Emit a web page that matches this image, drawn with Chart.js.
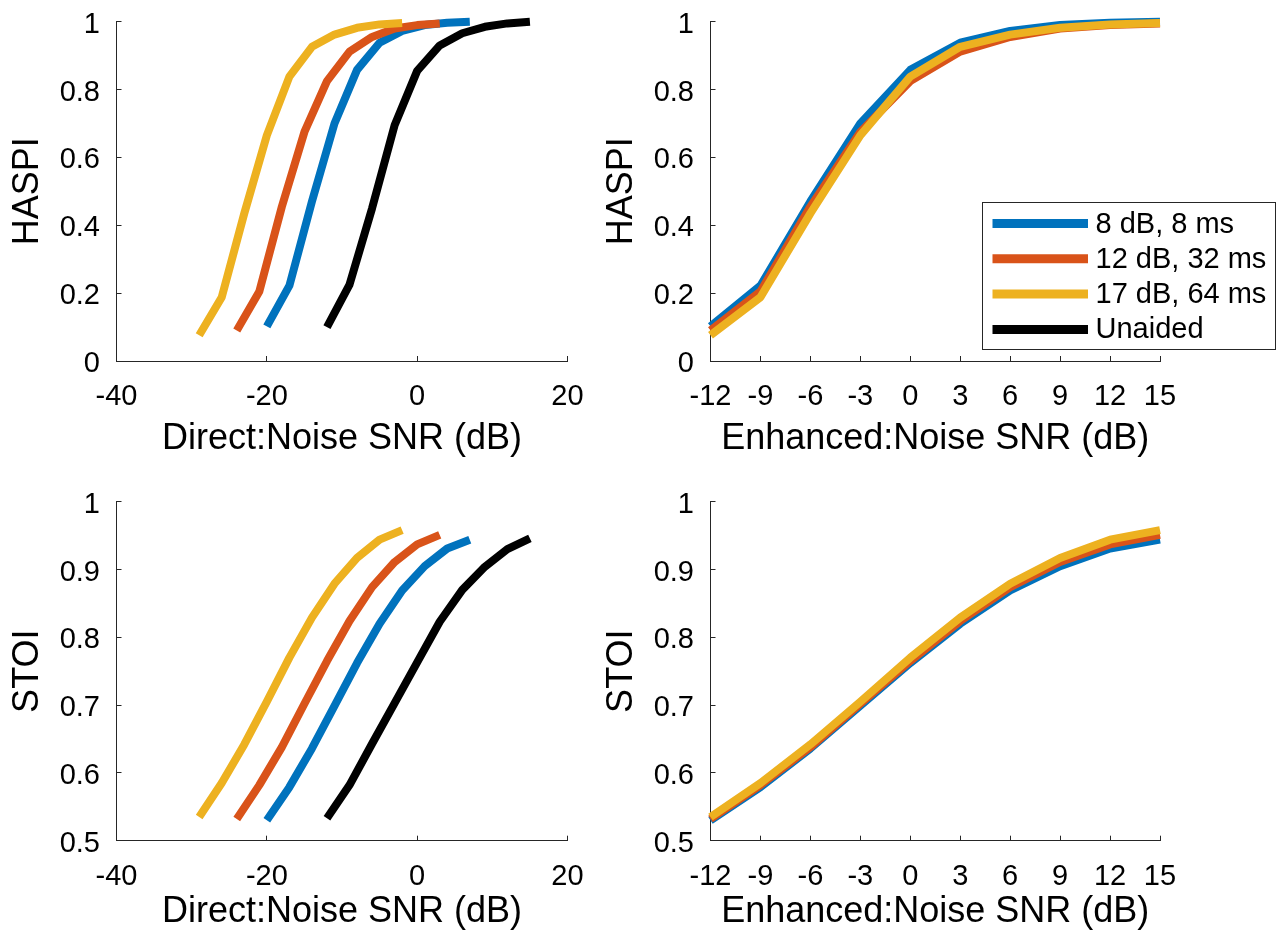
<!DOCTYPE html>
<html>
<head>
<meta charset="utf-8">
<title>HASPI / STOI vs SNR</title>
<script src="https://cdn.jsdelivr.net/npm/chart.js@4.4.1/dist/chart.umd.min.js"></script>
<style>
  body { margin: 0; background: #fff; }
  #wrap { position: relative; width: 1281px; height: 939px; }
  canvas { position: absolute; }
</style>
</head>
<body>
<div id="wrap">
  <canvas id="haspiDirect"   width="590" height="470" style="left:0;top:0"></canvas>
  <canvas id="haspiEnhanced" width="691" height="470" style="left:590px;top:0"></canvas>
  <canvas id="stoiDirect"    width="590" height="469" style="left:0;top:470px"></canvas>
  <canvas id="stoiEnhanced"  width="691" height="469" style="left:590px;top:470px"></canvas>
</div>
<script>
// ── Data ─────────────────────────────────────
const enhancedSnr      = [-12, -9, -6, -3, 0, 3, 6, 9, 12, 15];
const directSnr8       = [-20, -17, -14, -11, -8, -5, -2, 1, 4, 7];
const directSnr12      = [-24, -21, -18, -15, -12, -9, -6, -3, 0, 3];
const directSnr17      = [-29, -26, -23, -20, -17, -14, -11, -8, -5, -2];
const directSnrUnaided = [-12, -9, -6, -3, 0, 3, 6, 9, 12, 15];

const haspi8       = [0.102, 0.222, 0.47, 0.70, 0.858, 0.938, 0.973, 0.99, 0.997, 1.0];
const haspi12      = [0.09, 0.205, 0.455, 0.675, 0.825, 0.912, 0.955, 0.98, 0.99, 0.995];
const haspi17      = [0.076, 0.188, 0.435, 0.665, 0.838, 0.926, 0.962, 0.982, 0.992, 0.996];
const haspiUnaided = [0.10, 0.225, 0.45, 0.695, 0.855, 0.93, 0.966, 0.985, 0.995, 1.0];

const stoi8       = [0.530, 0.579, 0.636, 0.699, 0.762, 0.820, 0.869, 0.905, 0.931, 0.944];
const stoi12      = [0.532, 0.582, 0.638, 0.702, 0.765, 0.824, 0.874, 0.911, 0.937, 0.951];
const stoi17      = [0.535, 0.585, 0.642, 0.705, 0.770, 0.829, 0.879, 0.917, 0.944, 0.958];
const stoiUnaided = [0.533, 0.582, 0.643, 0.703, 0.763, 0.823, 0.870, 0.904, 0.930, 0.946];

const seriesLabels = ['8 dB, 8 ms', '12 dB, 32 ms', '17 dB, 64 ms', 'Unaided'];
const seriesColors = ['#0072BD', '#D95319', '#EDB120', '#000000'];

const haspiTicks    = ['0', '0.2', '0.4', '0.6', '0.8', '1'];
const stoiTicks     = ['0.5', '0.6', '0.7', '0.8', '0.9', '1'];
const directTicks   = ['-40', '-20', '0', '20'];
const enhancedTicks = ['-12', '-9', '-6', '-3', '0', '3', '6', '9', '12', '15'];

// ── Shared style ─────────────────────────────
const FONT = '"Liberation Sans", Arial, Helvetica, sans-serif';
const AXIS = '#262626';
const TEXT = '#000';

Chart.defaults.font.family = FONT;
Chart.defaults.color = TEXT;

// legend box drawn inside the top-right panel (MATLAB style)
const boxLegend = {
  id: 'boxLegend',
  afterDraw(chart) {
    const ctx = chart.ctx;
    const left = 392.5, top = 202.5, w = 293, h = 147;
    ctx.save();
    ctx.fillStyle = '#fff';
    ctx.fillRect(left, top, w, h);
    ctx.strokeStyle = AXIS;
    ctx.lineWidth = 1;
    ctx.strokeRect(left, top, w, h);
    ctx.font = '29px ' + FONT;
    ctx.textBaseline = 'middle';
    ctx.textAlign = 'left';
    chart.data.datasets.forEach((ds, i) => {
      const y = top + 21 + i * 35.3;
      ctx.strokeStyle = ds.borderColor;
      ctx.lineWidth = 9;
      ctx.lineCap = 'butt';
      ctx.beginPath();
      ctx.moveTo(left + 10, y);
      ctx.lineTo(left + 105.5, y);
      ctx.stroke();
      ctx.fillStyle = TEXT;
      ctx.fillText(ds.label, left + 113, y + 1);
    });
    ctx.restore();
  }
};

// scale boxes are fixed, label overhang must not shrink the plot area
function fixScale(s, size) {
  if (s.isHorizontal()) s.height = size; else s.width = size;
  s.paddingLeft = s.paddingRight = s.paddingTop = s.paddingBottom = 0;
}

/**
 * One MATLAB-like panel: left and bottom axes only, inward ticks.
 */
function buildPanel(canvasId, xs, ys, o) {
  const datasets = seriesLabels.map((label, i) => ({
    label,
    data: xs[i].map((x, j) => ({ x, y: ys[i][j] })),
    borderColor: seriesColors[i],
    backgroundColor: seriesColors[i],
    borderWidth: 8,
    pointRadius: 0,
    pointHoverRadius: 0,
    tension: 0,
    borderCapStyle: 'butt',
    borderJoinStyle: 'round',
    clip: false,
    order: 3 - i
  }));

  return new Chart(document.getElementById(canvasId), {
    type: 'line',
    data: { datasets },
    plugins: o.legend ? [boxLegend] : [],
    options: {
      responsive: false,
      animation: false,
      devicePixelRatio: 1,
      layout: { padding: { left: 0, top: o.top, right: o.right, bottom: 0 } },
      plugins: { legend: { display: false }, tooltip: { enabled: false } },
      scales: {
        x: {
          type: 'linear',
          min: o.xMin, max: o.xMax,
          afterFit: s => fixScale(s, o.xHeight),
          border: { color: AXIS, width: 1 },
          grid: { drawOnChartArea: false, tickLength: -5, color: AXIS, lineWidth: 1 },
          ticks: {
            stepSize: o.xStep, autoSkip: false, maxRotation: 0, minRotation: 0,
            padding: 24, color: TEXT, font: { size: 29 },
            callback: (v, i) => o.xLabels[i]
          },
          title: {
            display: true, text: o.xTitle, color: TEXT, font: { size: 36 },
            padding: { top: 0, bottom: o.xTitlePad }
          }
        },
        y: {
          min: o.yMin, max: o.yMax,
          afterFit: s => fixScale(s, o.yWidth),
          border: { color: AXIS, width: 1 },
          grid: { drawOnChartArea: false, tickLength: -5, color: AXIS, lineWidth: 1 },
          ticks: {
            stepSize: o.yStep, padding: 21.5, labelOffset: 3, color: TEXT, font: { size: 29 },
            callback: (v, i) => o.yLabels[i]
          },
          title: {
            display: true, text: o.yTitle, color: TEXT, font: { size: 36 },
            padding: { top: o.yTitlePad, bottom: 0 }
          }
        }
      }
    }
  });
}

const directXs   = [directSnr8, directSnr12, directSnr17, directSnrUnaided];
const enhancedXs = [enhancedSnr, enhancedSnr, enhancedSnr, []];

buildPanel('haspiDirect', directXs, [haspi8, haspi12, haspi17, haspiUnaided], {
  top: 21.7, right: 22.5, xHeight: 109, yWidth: 116.5,
  xMin: -40, xMax: 20, xStep: 20, xLabels: directTicks, xTitle: 'Direct:Noise SNR (dB)', xTitlePad: 9,
  yMin: 0, yMax: 1, yStep: 0.2, yLabels: haspiTicks, yTitle: 'HASPI', yTitlePad: 6.7
});

buildPanel('haspiEnhanced', enhancedXs, [haspi8, haspi12, haspi17, []], {
  top: 21.7, right: 121, xHeight: 109, yWidth: 120.5, legend: true,
  xMin: -12, xMax: 15, xStep: 3, xLabels: enhancedTicks, xTitle: 'Enhanced:Noise SNR (dB)', xTitlePad: 9,
  yMin: 0, yMax: 1, yStep: 0.2, yLabels: haspiTicks, yTitle: 'HASPI', yTitlePad: 10.9
});

buildPanel('stoiDirect', directXs, [stoi8, stoi12, stoi17, stoiUnaided], {
  top: 31.7, right: 22.5, xHeight: 98.3, yWidth: 116.5,
  xMin: -40, xMax: 20, xStep: 20, xLabels: directTicks, xTitle: 'Direct:Noise SNR (dB)', xTitlePad: 5.4,
  yMin: 0.5, yMax: 1, yStep: 0.1, yLabels: stoiTicks, yTitle: 'STOI', yTitlePad: 6.7
});

buildPanel('stoiEnhanced', enhancedXs, [stoi8, stoi12, stoi17, []], {
  top: 31.7, right: 121, xHeight: 98.3, yWidth: 120.5,
  xMin: -12, xMax: 15, xStep: 3, xLabels: enhancedTicks, xTitle: 'Enhanced:Noise SNR (dB)', xTitlePad: 5.4,
  yMin: 0.5, yMax: 1, yStep: 0.1, yLabels: stoiTicks, yTitle: 'STOI', yTitlePad: 10.9
});
</script>
</body>
</html>
